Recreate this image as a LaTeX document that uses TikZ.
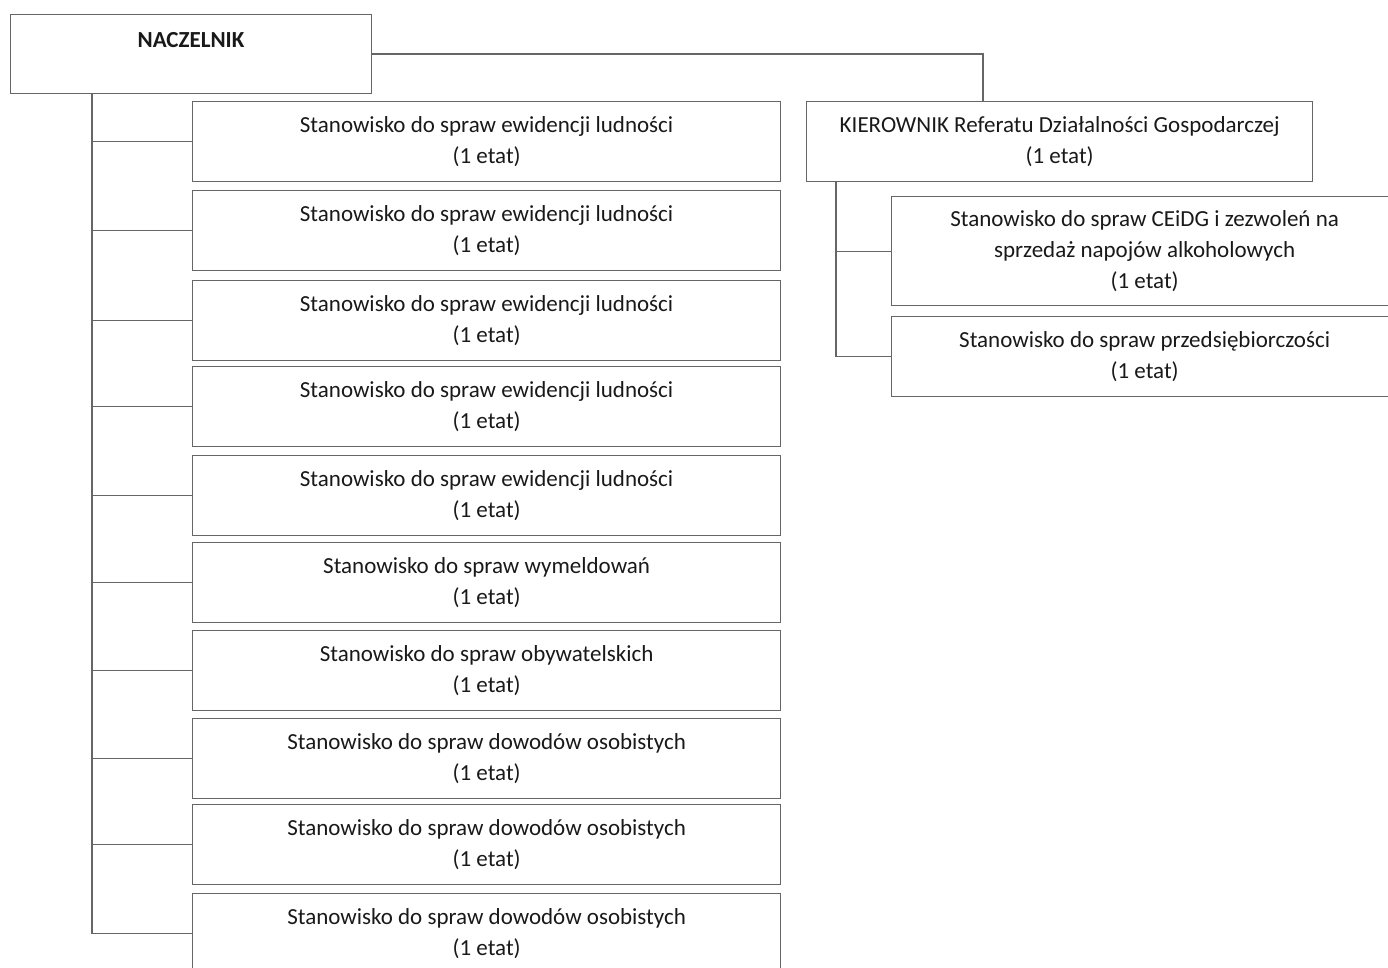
\documentclass[tikz,border=0pt]{standalone}
\usepackage{fontspec}
\setmainfont{Carlito}
\begin{document}
\begin{tikzpicture}[x=1pt,y=-1pt,
  line/.style={draw=black!60,line width=1.3pt},
  box/.style={rectangle,draw=black!60,line width=1.3pt,minimum height=80pt,inner sep=0pt,align=center,text=black!90,font=\fontsize{23}{31}\selectfont},
  lbox/.style={box,minimum width=588pt,anchor=north west},
  rbox/.style={box,minimum width=506pt,anchor=north west}]
\useasboundingbox (0,0) rectangle (1388,968);
\node[box,minimum width=361pt,minimum height=79pt,anchor=north west] (n) at (10,14) {};
\node[text=black!90,font=\fontsize{23}{28}\selectfont\bfseries,anchor=center] (nt) at (191,40) {NACZELNIK};
\node[rbox] (k) at (806,101) {KIEROWNIK Referatu Działalności Gospodarczej\\(1 etat)};
\node[lbox] (b1) at (192,101) {Stanowisko do spraw ewidencji ludności\\(1 etat)};
\node[lbox] (b2) at (192,190) {Stanowisko do spraw ewidencji ludności\\(1 etat)};
\node[lbox] (b3) at (192,280) {Stanowisko do spraw ewidencji ludności\\(1 etat)};
\node[lbox] (b4) at (192,366) {Stanowisko do spraw ewidencji ludności\\(1 etat)};
\node[lbox] (b5) at (192,455) {Stanowisko do spraw ewidencji ludności\\(1 etat)};
\node[lbox] (b6) at (192,542) {Stanowisko do spraw wymeldowań\\(1 etat)};
\node[lbox] (b7) at (192,630) {Stanowisko do spraw obywatelskich\\(1 etat)};
\node[lbox] (b8) at (192,718) {Stanowisko do spraw dowodów osobistych\\(1 etat)};
\node[lbox] (b9) at (192,804) {Stanowisko do spraw dowodów osobistych\\(1 etat)};
\node[lbox] (b10) at (192,893) {Stanowisko do spraw dowodów osobistych\\(1 etat)};
\node[rbox,minimum height=109pt] (r1) at (891,196) {Stanowisko do spraw CEiDG i zezwoleń na\\sprzedaż napojów alkoholowych\\(1 etat)};
\node[rbox] (r2) at (891,316) {Stanowisko do spraw przedsiębiorczości\\(1 etat)};
\coordinate (tt) at ([xshift=82pt]n.south west);
\coordinate (kt) at ([xshift=177pt]k.north west);
\coordinate (rt) at ([xshift=30pt]k.south west);
\draw[line] (n.east) -| (kt);
\draw[line] (tt) |- (b10.west);
\foreach \b in {b1,b2,b3,b4,b5,b6,b7,b8,b9} \draw[line] (tt |- \b.west) -- (\b.west);
\draw[line] (rt) |- (r2.west);
\draw[line] (rt |- r1.west) -- (r1.west);
\end{tikzpicture}
\end{document}
